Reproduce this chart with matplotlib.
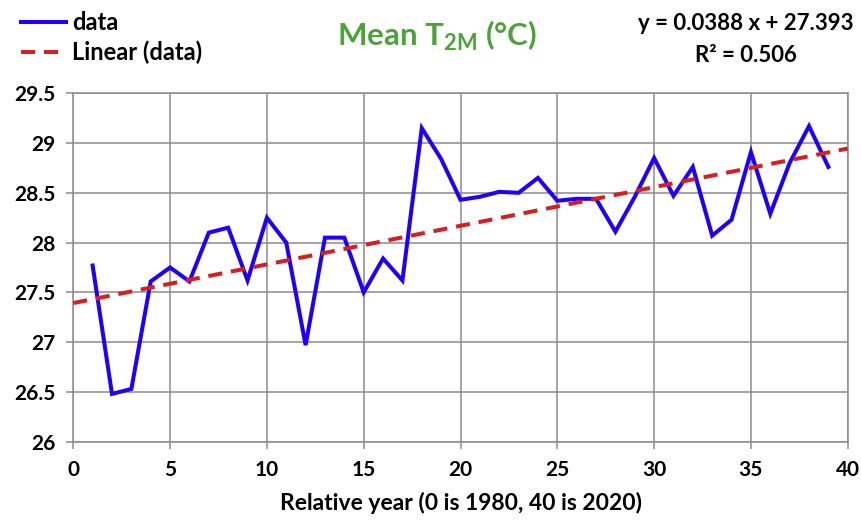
import matplotlib
import numpy as np

matplotlib.use("Agg")

from matplotlib import pyplot as plt  # noqa: E402

# relative year (0 is 1980) and mean 2 m temperature
years = np.arange(1, 40)
temps = [27.77, 26.48, 26.53, 27.61, 27.75, 27.61, 28.10, 28.15, 27.62, 28.25,
         28.00, 26.97, 28.05, 28.05, 27.50, 27.84, 27.62, 29.15, 28.84, 28.43,
         28.46, 28.51, 28.50, 28.65, 28.42, 28.44, 28.44, 28.11, 28.46, 28.85,
         28.47, 28.76, 28.07, 28.23, 28.91, 28.29, 28.80, 29.17, 28.76]
slope = 0.0388
intercept = 27.393
r_squared = 0.506
x_ticks = [0, 5, 10, 15, 20, 25, 30, 35, 40]
y_ticks = [26, 26.5, 27, 27.5, 28, 28.5, 29, 29.5]
y_labels = ["26", "26.5", "27", "27.5", "28", "28.5", "29", "29.5"]

plt.rcParams["font.family"] = ["Lato", "DejaVu Sans"]

fig = plt.figure(figsize=(8.61, 5.22), dpi=100)
ax = fig.add_axes([0.0851, 0.1538, 0.8995, 0.6675])

trend_x = np.array([0, 40])
data_line, = ax.plot(years, temps, color="#1f00ff", lw=2.9, solid_joinstyle="miter",
                     zorder=3)
trend_line, = ax.plot(trend_x, slope * trend_x + intercept, color="#d42020", lw=2.9,
                      dashes=(3.5, 2.2), zorder=4)

ax.set_xlim(0, 40)
ax.set_ylim(26, 29.5)
ax.set_xticks(x_ticks)
ax.set_yticks(y_ticks)
ax.set_yticklabels(y_labels)
ax.grid(True, color="#8c8c8c", lw=1.1)
for s in ax.spines.values():
    s.set_color("#8c8c8c")
    s.set_linewidth(1.1)
ax.tick_params(length=5, width=1.1, color="#8c8c8c", labelsize=15, pad=8)
for lab in ax.get_xticklabels() + ax.get_yticklabels():
    lab.set_fontweight("bold")
ax.set_xlabel("Relative year (0 is 1980, 40 is 2020)", fontsize=16.5,
              fontweight="bold", labelpad=9)

fig.text(0.508, 0.932, r"Mean T$_{\mathregular{2M}}$ (°C)", color="#4ea23c",
         fontsize=22.5, fontweight="bold", ha="center", va="center")
fig.text(0.866, 0.955, f"y = {slope} x + {intercept}", fontsize=16,
         fontweight="bold", ha="center", va="center")
fig.text(0.866, 0.893, f"R² = {r_squared}", fontsize=16,
         fontweight="bold", ha="center", va="center")

fig.legend([data_line, trend_line], ["data", "Linear (data)"],
           loc="upper left", bbox_to_anchor=(0.0, 1.02), frameon=False,
           handlelength=1.9, handletextpad=0.25, labelspacing=0.3,
           prop={"size": 17, "weight": "bold"})

fig.savefig("out.png", dpi=100)
